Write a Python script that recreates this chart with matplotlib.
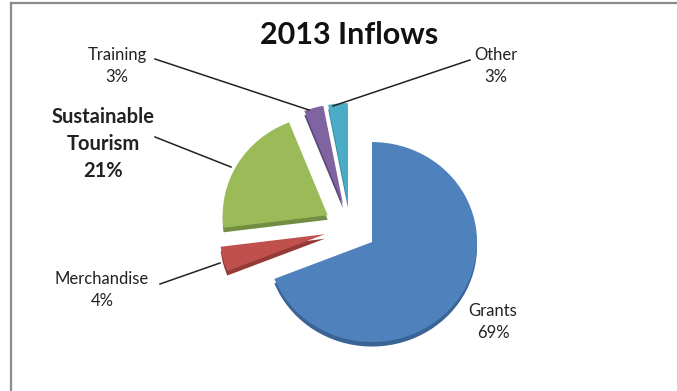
import matplotlib.pyplot as plt
from matplotlib.lines import Line2D

# data
labels = ['Grants', 'Merchandise', 'Sustainable\nTourism', 'Training', 'Other']
values = [69, 4, 21, 3, 3]
colors = ['#4f81bd', '#c0504d', '#9bbb59', '#8064a2', '#4bacc6']
dark = ['#3a6396', '#953a37', '#738d42', '#5e4879', '#35879e']

W, H = 677, 391


def fx(x):
    return x / W


def fy(y):
    return 1 - y / H


plt.rcParams['font.family'] = ['Lato', 'DejaVu Sans']

fig = plt.figure(figsize=(W / 100, H / 100), dpi=100)
ax = fig.add_axes([0, 0, 1, 1])

explode = [0.25] * len(values)
# depth of the 3d look: darker copy slightly lower
ax.pie(values, explode=explode, startangle=90, counterclock=False,
       colors=dark, center=(0, -0.045), wedgeprops=dict(linewidth=0))
ax.pie(values, explode=explode, startangle=90, counterclock=False,
       colors=colors, center=(0, 0), wedgeprops=dict(linewidth=0))

# pixel scale: 105 px per unit in x, 100 px in y, centre at (350, 228)
cx, cy = 350.3, 228
ax.set_aspect('auto')
ax.set_xlim(-cx / 105, (W - cx) / 105)
ax.set_ylim((cy - H) / 100, cy / 100)
ax.axis('off')

fig.text(fx(349), fy(35), '2013 Inflows', ha='center', va='center',
         fontsize=22, fontweight='bold', color='#111111')

txt = '#222222'
small = 12
fig.text(fx(117), fy(66), 'Training\n3%', ha='center', va='center',
         fontsize=small, color=txt, linespacing=1.45)
fig.text(fx(496), fy(66), 'Other\n3%', ha='center', va='center',
         fontsize=small, color=txt, linespacing=1.45)
fig.text(fx(103), fy(144), 'Sustainable\nTourism\n21%', ha='center',
         va='center', fontsize=14.5, fontweight='bold', color=txt,
         linespacing=1.42)
fig.text(fx(102), fy(290), 'Merchandise\n4%', ha='center', va='center',
         fontsize=small, color=txt, linespacing=1.45)
fig.text(fx(493), fy(322), 'Grants\n69%', ha='center', va='center',
         fontsize=small, color=txt, linespacing=1.45)

# leader lines
leaders = [((155, 59), (309, 110)),
           ((470, 60), (333, 106)),
           ((155, 137), (231, 167)),
           ((160, 284), (220, 263))]
for (x0, y0), (x1, y1) in leaders:
    fig.add_artist(Line2D([fx(x0), fx(x1)], [fy(y0), fy(y1)],
                          color='#222222', lw=1.1))

# frame border (top and left visible)
fig.add_artist(Line2D([fx(11), fx(W)], [fy(3), fy(3)], color='#8c8c8c', lw=1.6))
fig.add_artist(Line2D([fx(11), fx(11)], [fy(3), fy(H)], color='#8c8c8c', lw=1.6))

fig.savefig('out.png', dpi=100)
